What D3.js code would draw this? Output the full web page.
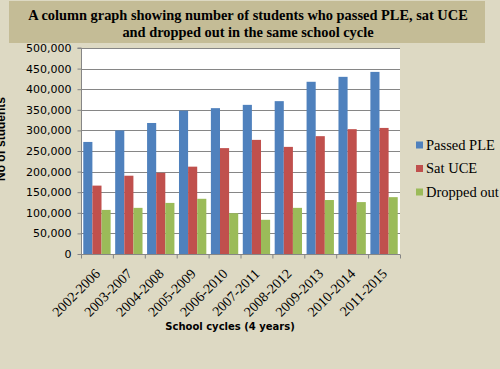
<!DOCTYPE html>
<html><head><meta charset="utf-8">
<script src="https://cdn.jsdelivr.net/npm/d3@7"></script>
<style>body{margin:0;background:#DDD9C3;}svg{display:block;}</style>
</head><body>
<script>
const categories = ["2002-2006","2003-2007","2004-2008","2005-2009","2006-2010","2007-2011","2008-2012","2009-2013","2010-2014","2011-2015"];
const seriesNames = ["Passed PLE","Sat UCE","Dropped out"];
const passedPLE = [272000,300000,318000,348000,354000,362000,371000,418000,430000,442000];
const satUCE = [166000,190000,197000,212000,257000,277000,260000,286000,303000,306000];
const droppedOut = [107000,112000,124000,134000,99000,83000,112000,131000,126000,138000];
const yTicks = [0,50000,100000,150000,200000,250000,300000,350000,400000,450000,500000];
const colors = ["#4F81BD","#C0504D","#9BBB59"];

const W=500,H=369;
const svg=d3.select("body").append("svg").attr("width",W).attr("height",H);
svg.append("rect").attr("width",W).attr("height",H).attr("fill","#DDD9C3");

// title
svg.append("rect").attr("x",9).attr("y",1).attr("width",476).attr("height",42).attr("fill","#C4BC96");
const tt=svg.append("text").attr("text-anchor","middle").attr("font-family","Liberation Serif, serif")
 .attr("font-weight","bold").attr("font-size",14.4).attr("fill","#000");
tt.append("tspan").attr("x",248).attr("y",20).text("A column graph showing number of students who passed PLE, sat UCE");
tt.append("tspan").attr("x",248).attr("y",37).text("and dropped out  in the same school  cycle");

const x0=81,x1=400,yTop=48,yBot=254;
const x=d3.scaleBand().domain(categories).range([x0,x1]).paddingInner(0).paddingOuter(0);
const y=d3.scaleLinear().domain([0,500000]).range([yBot,yTop]);
const xs=d3.scaleBand().domain(seriesNames).range([0,x.bandwidth()]).paddingInner(0).paddingOuter(0.25);

svg.append("rect").attr("x",x0).attr("y",yTop).attr("width",x1-x0).attr("height",yBot-yTop).attr("fill","#fff");
svg.append("g").selectAll("line").data(yTicks.slice(1)).join("line")
 .attr("x1",x0).attr("x2",x1).attr("y1",d=>Math.round(y(d))+0.5).attr("y2",d=>Math.round(y(d))+0.5)
 .attr("stroke","#868686").attr("stroke-width",1);

const data=[passedPLE,satUCE,droppedOut];
const g=svg.append("g");
seriesNames.forEach((s,si)=>{
  g.selectAll(null).data(categories).join("rect")
   .attr("x",(c)=>x(c)+xs(s)).attr("width",xs.bandwidth())
   .attr("y",(c,i)=>y(data[si][i])).attr("height",(c,i)=>yBot-y(data[si][i]))
   .attr("fill",colors[si]);
});

// y axis
const ya=svg.append("g").attr("transform",`translate(${x0+0.5},0)`)
 .call(d3.axisLeft(y).tickValues(yTicks).tickSize(4).tickPadding(6).tickFormat(d3.format(",")));
ya.select(".domain").attr("stroke","#868686").attr("d",`M-4,${y(500000)}H0V${yBot}`);
ya.selectAll(".tick line").attr("stroke","#868686");
ya.selectAll("text").attr("font-family","DejaVu Sans, Verdana, sans-serif").attr("font-size",11).attr("fill","#000");

// x axis
const xa=svg.append("g").attr("transform",`translate(0,${yBot+0.5})`);
xa.append("line").attr("x1",x0).attr("x2",x1).attr("stroke","#868686");
xa.selectAll("line.t").data(categories.concat(["end"])).join("line").attr("class","t")
 .attr("x1",(d,i)=>x0+i*x.bandwidth()+0.5).attr("x2",(d,i)=>x0+i*x.bandwidth()+0.5)
 .attr("y1",0).attr("y2",4).attr("stroke","#868686");
xa.selectAll("text").data(categories).join("text")
 .attr("text-anchor","end").attr("font-family","Liberation Serif, serif").attr("font-size",14).attr("fill","#000")
 .attr("transform",d=>`translate(${x(d)+x.bandwidth()/2+4},${20}) rotate(-45)`).text(d=>d);

svg.append("text").attr("x",230).attr("y",330).attr("text-anchor","middle")
 .attr("font-family","DejaVu Sans, Verdana, sans-serif").attr("font-weight","bold").attr("font-size",10)
 .text("School cycles (4 years)");
svg.append("text").attr("transform","translate(5,139) rotate(-90)").attr("text-anchor","middle")
 .attr("font-family","Liberation Sans, Arial, sans-serif").attr("font-weight","bold").attr("font-size",12)
 .text("No of students");

// legend
const lg=svg.append("g");
seriesNames.forEach((s,i)=>{
  const ly=145+i*23.5;
  lg.append("rect").attr("x",416).attr("y",ly-3.5).attr("width",7).attr("height",7).attr("fill",colors[i]);
  lg.append("text").attr("x",426).attr("y",ly+4.5).attr("font-family","Liberation Serif, serif").attr("font-size",14.5).text(s);
});
</script>
</body></html>
